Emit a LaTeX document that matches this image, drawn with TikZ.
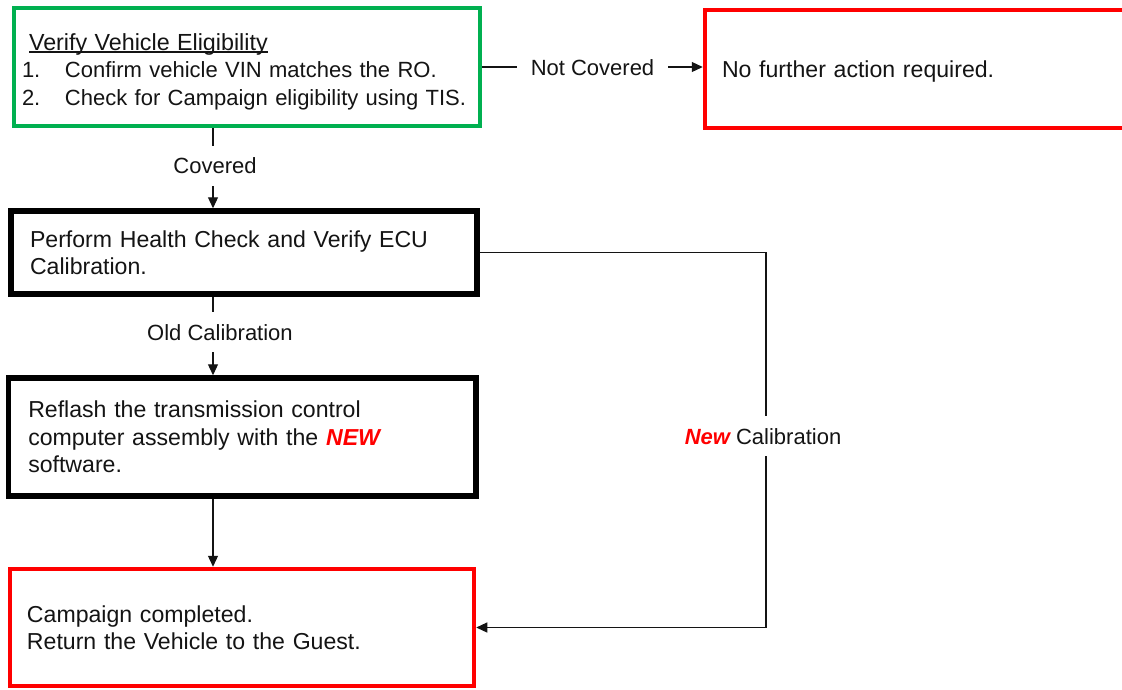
\documentclass[tikz,border=0pt]{standalone}
\usepackage{fontspec}
\setmainfont{Liberation Sans}
\usetikzlibrary{arrows.meta}
\definecolor{boxgreen}{RGB}{0,176,80}
\definecolor{boxred}{RGB}{255,0,0}
\definecolor{txt}{RGB}{20,20,20}
\newcommand{\ulinetext}[1]{\setbox0\hbox{#1}\rlap{\rule[-2.5pt]{\wd0}{1.3pt}}#1}
\newcommand{\rednew}[1]{{\color{boxred}\bfseries\itshape #1}}
\begin{document}
\begin{tikzpicture}[x=1pt,y=-1pt,
  every node/.style={font=\fontsize{22}{27.5}\selectfont, text=txt},
  box/.style={draw, align=left, inner ysep=0pt, anchor=center},
  bigtext/.style={font=\fontsize{23.1}{27.5}\selectfont},
  greenbox/.style={box, draw=boxgreen, line width=4.5pt},
  blackbox/.style={box, bigtext, draw=black, line width=5.5pt},
  redbox/.style={box, bigtext, draw=boxred, line width=4.5pt},
  conn/.style={line width=1.2pt, draw=txt, -{Triangle[length=11pt,width=10pt]}},
  lbl/.style={fill=white, text height=16pt, text depth=0pt, inner ysep=12pt, inner xsep=14pt}]
\clip (0,0) rectangle (1122,689);
\fill[white] (0,0) rectangle (1122,689);

\node[greenbox, inner xsep=8pt, text width=450pt, minimum width=466pt, minimum height=118pt] (b1) at (247,67)
  {\rule{0pt}{26pt}\hspace*{7pt}{\fontsize{23.3}{27.5}\selectfont\ulinetext{Verify Vehicle Eligibility}}\\
   \makebox[43pt][l]{1.}Confirm vehicle VIN matches the RO.\\
   \makebox[43pt][l]{2.}Check for Campaign eligibility using TIS.};

\node[redbox, inner xsep=17pt, text width=401pt, minimum width=435pt, minimum height=118pt, text height=17pt, text depth=0pt] (nf) at (922.5,69)
  {No further action required.};

\node[blackbox, inner xsep=19pt, text width=428pt, minimum width=466pt, minimum height=83pt] (b2) at (244,252.5)
  {Perform Health Check and Verify ECU\\Calibration.};

\node[blackbox, inner xsep=19.5pt, text width=428pt, minimum width=467.5pt, minimum height=118pt] (b3) at (242.25,437)
  {Reflash the transmission control\\computer assembly with the \rednew{NEW}\\software.};

\node[redbox, inner xsep=17pt, text width=430pt, minimum width=464pt, minimum height=117pt] (b4) at (242,627.5)
  {Campaign completed.\\Return the Vehicle to the Guest.};

\coordinate (cx) at (213,0);
\coordinate (rx) at (766,0);

\draw[conn] (b1.south -| cx) -- node[lbl, pos=0.47, xshift=2pt] {Covered} (b2.north -| cx);
\draw[conn] (b2.south -| cx) -- node[lbl, pos=0.45, xshift=7pt] {Old Calibration} (b3.north -| cx);
\draw[conn] (b3.south -| cx) -- (b4.north -| cx);
\draw[conn] (b1.east) -- node[lbl, midway] {Not Covered} (b1.east -| nf.west);
\draw[conn] (b2.east) -- (b2.east -| rx) -- node[lbl, pos=0.49, xshift=-3pt] {\rednew{New} Calibration} (b4.east -| rx) -- (b4.east);
\end{tikzpicture}
\end{document}
